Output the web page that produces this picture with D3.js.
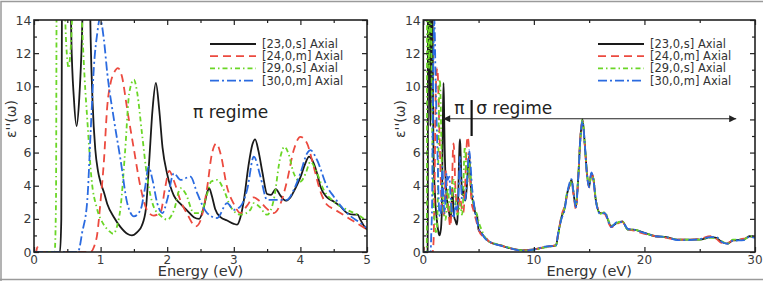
<!DOCTYPE html>
<html><head><meta charset="utf-8">
<script src="https://cdn.jsdelivr.net/npm/d3@7/dist/d3.min.js"></script>
<style>body{margin:0;background:#fff}svg{display:block}text{font-family:"DejaVu Sans",sans-serif}</style>
</head><body><svg id="c" width="763" height="281"></svg>
<script>
// ---- data (energy eV, epsilon'') ----
const seriesNames = ["[23,0,s] Axial","[24,0,m] Axial","[29,0,s] Axial","[30,0,m] Axial"];
const xTicksLeft = [0,1,2,3,4,5];
const xTicksRight = [0,10,20,30];
const yTicks = [0,2,4,6,8,10,12,14];

const s23Low = [[0,0],[0.39,0],[0.41,2],[0.42,16],[0.45,30],[0.5,30],[0.54,18],[0.56,13],[0.6,9.2],[0.64,7.6],[0.68,9.3],[0.72,13],[0.75,18],[0.8,25],[0.83,18],[0.85,13],[0.88,9],[0.92,6.2],[0.96,4.9],[1.0,4.2],[1.05,3.6],[1.1,2.9],[1.2,2.1],[1.3,1.5],[1.4,1.1],[1.47,1.0],[1.55,1.2],[1.62,1.6],[1.68,2.6],[1.73,5.5],[1.78,8.6],[1.83,10.2],[1.88,8.6],[1.93,6.3],[2.0,4.7],[2.1,3.4],[2.2,2.9],[2.3,2.5],[2.4,2.1],[2.48,2.0],[2.55,2.7],[2.6,3.6],[2.63,3.85],[2.67,3.4],[2.72,2.6],[2.8,2.1],[2.9,1.9],[3.0,1.7],[3.05,1.65],[3.1,2.1],[3.15,3.1],[3.22,5.2],[3.28,6.5],[3.32,6.8],[3.37,6.1],[3.43,4.8],[3.5,3.5],[3.56,3.45],[3.63,3.8],[3.7,3.4],[3.78,3.1],[3.85,3.3],[3.92,3.8],[4.0,4.5],[4.07,5.3],[4.13,5.75],[4.2,5.35],[4.26,4.6],[4.3,3.95],[4.4,3.3],[4.5,3.05],[4.6,2.75],[4.7,2.35],[4.8,2.25],[4.86,2.25],[4.9,1.95],[4.95,1.6],[5.0,1.35]];
const s24Low = [[0,0],[0.03,0],[0.05,0.3],[0.07,0],[0.85,0],[0.9,0.3],[0.95,1.1],[1.0,3.1],[1.05,5.5],[1.1,8.8],[1.15,10.2],[1.2,10.8],[1.26,11.1],[1.32,10.6],[1.4,8.6],[1.5,6.2],[1.6,3.9],[1.7,2.5],[1.8,2.2],[1.9,2.4],[1.97,3.9],[2.03,4.9],[2.1,4.3],[2.2,3.1],[2.3,2.3],[2.43,1.55],[2.5,1.9],[2.6,3.9],[2.67,5.9],[2.74,6.55],[2.8,5.95],[2.9,3.9],[3.0,2.9],[3.1,2.35],[3.2,2.8],[3.3,3.3],[3.38,3.1],[3.5,2.6],[3.6,2.35],[3.7,2.9],[3.8,4.3],[3.9,6.15],[4.0,6.95],[4.1,6.55],[4.2,5.15],[4.3,3.65],[4.4,2.85],[4.5,2.6],[4.6,2.35],[4.8,1.85],[5.0,1.35]];
const s29Low = [[0,0],[0.31,0],[0.33,3],[0.34,16],[0.38,30],[0.44,20],[0.47,14],[0.5,11.6],[0.52,11.1],[0.54,11.7],[0.57,14],[0.6,20],[0.65,30],[0.69,18],[0.72,14],[0.76,10.5],[0.8,8],[0.865,4.35],[0.94,2.7],[1.04,1.7],[1.12,1.3],[1.19,1.1],[1.25,1.6],[1.3,2.7],[1.37,6.2],[1.43,9.6],[1.5,10.4],[1.55,9.6],[1.62,7.2],[1.7,4.5],[1.8,2.7],[1.9,2.2],[2.0,1.95],[2.1,2.5],[2.2,3.85],[2.28,3.5],[2.4,2.35],[2.5,2.35],[2.6,3.5],[2.66,4.25],[2.75,4.35],[2.85,3.75],[2.95,2.75],[3.1,2.25],[3.25,2.55],[3.3,2.95],[3.38,2.75],[3.5,2.25],[3.6,3.15],[3.7,5.75],[3.76,6.35],[3.82,5.95],[3.9,4.75],[4.0,4.25],[4.08,4.75],[4.15,5.45],[4.25,4.75],[4.35,3.75],[4.5,3.05],[4.7,2.55],[4.9,2.15],[5.0,1.85]];
const s30Low = [[0,0],[0.66,0],[0.68,0.2],[0.72,1.1],[0.8,3.1],[0.85,7.2],[0.9,11.2],[0.95,13.2],[0.99,14.1],[1.05,12.8],[1.1,10.8],[1.2,8],[1.3,5.55],[1.4,2.95],[1.5,2.15],[1.6,2.55],[1.67,3.95],[1.72,5.15],[1.78,4.35],[1.85,2.95],[1.93,2.35],[2.0,3.15],[2.1,4.75],[2.2,4.35],[2.35,4.55],[2.45,3.55],[2.6,2.35],[2.75,2.05],[2.9,2.95],[3.0,2.55],[3.1,2.75],[3.2,3.75],[3.3,5.75],[3.4,4.55],[3.5,3.15],[3.65,3.15],[3.8,3.15],[3.9,3.75],[4.0,4.75],[4.1,5.95],[4.15,6.15],[4.25,5.55],[4.4,3.95],[4.5,3.35],[4.7,2.35],[4.9,1.75],[5.0,1.45]];

const s23High = [[5.3,1.1],[5.6,0.85],[6,0.6],[7,0.4],[8,0.2],[9,0.1],[10,0.15],[11,0.3],[12,0.4],[12.2,1.1],[12.5,2.1],[12.8,2.7],[13,3.5],[13.2,3.95],[13.4,4.35],[13.6,3.5],[13.8,2.7],[14,4.35],[14.2,6.8],[14.4,8.0],[14.6,6.55],[14.8,4.75],[15,3.95],[15.2,4.75],[15.4,4.35],[15.6,3.15],[16,2.35],[16.4,2.35],[17,1.55],[17.5,1.75],[18,1.85],[18.5,1.35],[19,1.35],[20,1.15],[21,0.95],[22,0.9],[23,0.75],[24,0.75],[25,0.75],[26,0.9],[26.5,0.85],[27,0.6],[27.5,0.5],[28,0.7],[29,0.75],[29.5,0.95],[30,0.9]];
const s24High = [[5.3,1.0],[5.6,0.9],[6,0.6],[7,0.4],[8,0.2],[9,0.1],[10,0.15],[11,0.3],[12,0.42],[12.2,1.1],[12.5,2.2],[12.8,2.8],[13,3.4],[13.2,4.0],[13.4,4.2],[13.6,3.4],[13.8,2.6],[14,4.3],[14.2,6.9],[14.4,7.9],[14.6,6.5],[14.8,4.7],[15,3.9],[15.2,4.8],[15.4,4.3],[15.6,3.1],[16,2.4],[16.4,2.3],[17,1.5],[17.5,1.7],[18,1.8],[18.5,1.4],[19,1.3],[20,1.1],[21,0.95],[22,0.85],[23,0.75],[24,0.75],[25,0.8],[26,0.95],[26.5,0.8],[27,0.55],[27.5,0.55],[28,0.7],[29,0.8],[29.5,0.9],[30,0.9]];
const s29High = [[5.3,1.3],[5.6,0.85],[6,0.6],[7,0.42],[8,0.22],[9,0.1],[10,0.12],[11,0.28],[12,0.4],[12.2,1.0],[12.5,2.1],[12.8,2.7],[13,3.6],[13.2,3.9],[13.4,4.3],[13.6,3.6],[13.8,2.8],[14,4.4],[14.2,6.7],[14.4,8.0],[14.6,6.6],[14.8,4.8],[15,4.0],[15.2,4.7],[15.4,4.4],[15.6,3.2],[16,2.3],[16.4,2.4],[17,1.6],[17.5,1.75],[18,1.85],[18.5,1.35],[19,1.35],[20,1.15],[21,0.95],[22,0.9],[23,0.75],[24,0.75],[25,0.75],[26,0.85],[26.5,0.85],[27,0.65],[27.5,0.5],[28,0.75],[29,0.75],[29.5,0.95],[30,0.9]];
const s30High = [[5.3,1.1],[5.6,0.8],[6,0.62],[7,0.38],[8,0.2],[9,0.08],[10,0.14],[11,0.32],[12,0.38],[12.2,1.15],[12.5,2.0],[12.8,2.6],[13,3.5],[13.2,4.1],[13.4,4.4],[13.6,3.5],[13.8,2.7],[14,4.3],[14.2,6.8],[14.4,7.9],[14.6,6.6],[14.8,4.7],[15,3.9],[15.2,4.8],[15.4,4.3],[15.6,3.1],[16,2.3],[16.4,2.35],[17,1.5],[17.5,1.8],[18,1.8],[18.5,1.4],[19,1.35],[20,1.15],[21,0.95],[22,0.9],[23,0.72],[24,0.72],[25,0.78],[26,0.9],[26.5,0.9],[27,0.6],[27.5,0.5],[28,0.68],[29,0.72],[29.5,0.92],[30,0.85]];

// ---- styling ----
const colors = ["#1a1a1a","#ec4a3f","#6ad626","#2b6be0"];
const dashes = [null,"8,5","5,3,1.5,3","9,3,2,3"];
const lowSets = [s23Low,s24Low,s29Low,s30Low];
const highSets = [s23High,s24High,s29High,s30High];

const svg = d3.select("#c");
svg.append("path").attr("d","M1,281 V1.5 H763 M0,279.5 H763").attr("fill","none").attr("stroke","#9a9a9a").attr("stroke-width",1.5);

function panel(id, x0, x1, xmax, xticks, xminor, sets, regimeFn){
  const y0=20, y1=252;
  const x = d3.scaleLinear().domain([0,xmax]).range([x0,x1]);
  const y = d3.scaleLinear().domain([0,14]).range([y1,y0]);
  const g = svg.append("g");
  g.append("clipPath").attr("id",id).append("rect").attr("x",x0).attr("y",y0).attr("width",x1-x0).attr("height",y1-y0);
  const line = d3.line().x(d=>x(d[0])).y(d=>y(d[1])).curve(d3.curveMonotoneX);
  const lg = g.append("g").attr("clip-path",`url(#${id})`);
  sets.forEach((s,i)=>{
    lg.append("path").attr("d",line(s)).attr("fill","none").attr("stroke",colors[i])
      .attr("stroke-width",1.8).attr("stroke-dasharray",dashes[i]).attr("stroke-linejoin","round");
  });
  g.append("rect").attr("x",x0).attr("y",y0).attr("width",x1-x0).attr("height",y1-y0)
    .attr("fill","none").attr("stroke","#222").attr("stroke-width",1.6);
  const ax = (gen, tr, vals, size) => {
    const a = g.append("g").attr("transform",tr).call(gen.tickValues(vals).tickSize(size).tickFormat(""));
    a.select(".domain").remove(); a.selectAll("line").attr("stroke","#222").attr("stroke-width",1.2);
  };
  const yminor = d3.range(1,14,2);
  ax(d3.axisTop(x), `translate(0,${y1})`, xticks, 5);
  ax(d3.axisTop(x), `translate(0,${y1})`, xminor, 3);
  ax(d3.axisBottom(x), `translate(0,${y0})`, xticks, 5);
  ax(d3.axisBottom(x), `translate(0,${y0})`, xminor, 3);
  ax(d3.axisRight(y), `translate(${x0},0)`, yTicks, 5);
  ax(d3.axisRight(y), `translate(${x0},0)`, yminor, 3);
  ax(d3.axisLeft(y), `translate(${x1},0)`, yTicks, 5);
  ax(d3.axisLeft(y), `translate(${x1},0)`, yminor, 3);
  g.selectAll(".xl").data(xticks).enter().append("text").attr("x",d=>x(d)).attr("y",263.5)
    .attr("text-anchor","middle").attr("font-size",12).attr("fill","#3a3a3a").text(d=>d);
  g.selectAll(".yl").data(yTicks).enter().append("text").attr("x",x0-2.5).attr("y",d=>y(d)+4.5)
    .attr("text-anchor","end").attr("font-size",12.5).attr("fill","#3a3a3a").text(d=>d);
  g.append("text").attr("x",(x0+x1)/2).attr("y",276).attr("text-anchor","middle").attr("font-size",14.5).attr("fill","#333").text("Energy (eV)");
  g.append("text").attr("transform",`translate(${x0-18},119) rotate(-90)`).attr("text-anchor","middle")
    .attr("font-size",14).attr("fill","#333").text("ε''(ω)");
  const lx0 = x1-157, lx1 = x1-111, tx = x1-105;
  seriesNames.forEach((n,i)=>{
    const yy = 44 + i*12.2;
    g.append("line").attr("x1",lx0).attr("x2",lx1).attr("y1",yy).attr("y2",yy).attr("stroke",colors[i])
      .attr("stroke-width",1.8).attr("stroke-dasharray",dashes[i]);
    g.append("text").attr("x",tx).attr("y",yy+4).attr("font-size",11.5).attr("fill","#333").text(n);
  });
  regimeFn(g,x,y);
}

panel("cl",34,367,5,xTicksLeft,[0.5,1.5,2.5,3.5,4.5],lowSets,(g,x,y)=>{
  g.append("text").attr("x",193).attr("y",118).attr("font-size",17).attr("fill","#222").text("π regime");
});
panel("cr",423.3,755,30,xTicksRight,[5,15,25],lowSets.map((s,i)=>s.concat(highSets[i])),(g,x,y)=>{
  const defs = svg.append("defs");
  ["L","R"].forEach(k=>{
    defs.append("marker").attr("id","ar"+k).attr("viewBox","0 0 10 10").attr("refX",k=="R"?10:0).attr("refY",5)
      .attr("markerWidth",9).attr("markerHeight",7).attr("markerUnits","userSpaceOnUse").attr("orient","auto")
      .append("path").attr("d",k=="R"?"M0,0 L10,5 L0,10 z":"M10,0 L0,5 L10,10 z").attr("fill","#222");
  });
  g.append("line").attr("x1",x(1.8)).attr("x2",x(28.3)).attr("y1",y(8.04)).attr("y2",y(8.04))
    .attr("stroke","#222").attr("stroke-width",1.2).attr("marker-start","url(#arL)").attr("marker-end","url(#arR)");
  g.append("line").attr("x1",x(4.37)).attr("x2",x(4.37)).attr("y1",y(9.17)).attr("y2",y(7.0))
    .attr("stroke","#111").attr("stroke-width",2.2);
  g.append("text").attr("x",x(2.79)).attr("y",113.5).attr("font-size",17).attr("fill","#222").text("π");
  g.append("text").attr("x",x(4.8)).attr("y",113.5).attr("font-size",17).attr("fill","#222").text("σ regime");
});
</script></body></html>
